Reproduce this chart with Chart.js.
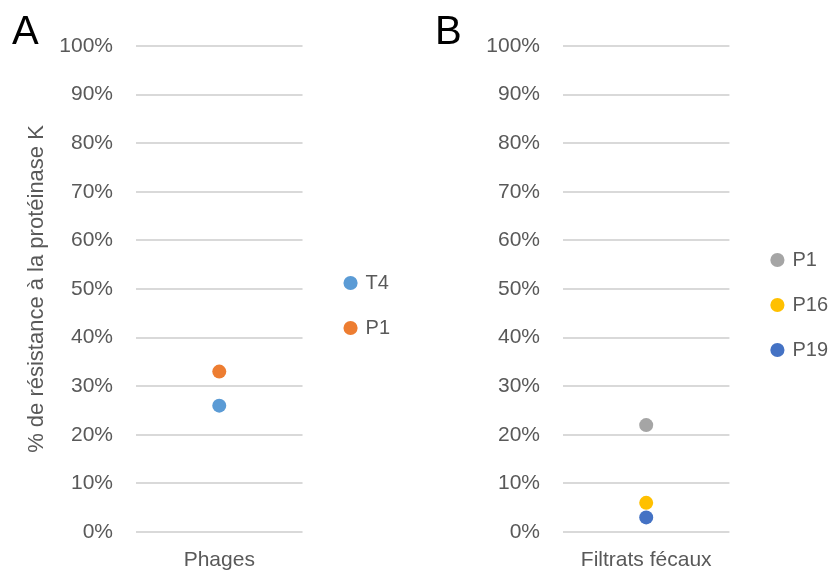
<!DOCTYPE html>
<html><head><meta charset="utf-8">
<script src="https://cdn.jsdelivr.net/npm/chart.js@4/dist/chart.umd.min.js"></script>
<style>
html,body{margin:0;padding:0;background:#fff;}
#wrap{position:relative;width:830px;height:573px;overflow:hidden;}
canvas{position:absolute;top:0;}
</style>
</head><body>
<div id="wrap">
<canvas id="cA" width="420" height="573" style="left:0px"></canvas>
<canvas id="cB" width="410" height="573" style="left:420px"></canvas>
</div>
<script>
// ---- data ----
const panelACategories = ['Phages'];
const panelASeries = ['T4', 'P1'];
const panelAValues = [26, 33];

const panelBCategories = ['Filtrats fécaux'];
const panelBSeries = ['P1', 'P16', 'P19'];
const panelBValues = [22, 6, 3];

const yTickLabels = ['0%','10%','20%','30%','40%','50%','60%','70%','80%','90%','100%'];
const yAxisTitle = '% de résistance à la protéinase K';

// ---- styles ----
const panelAColors = ['#5B9BD5', '#ED7D31'];
const panelBColors = ['#A5A5A5', '#FFC000', '#4472C4'];
const FONT = "'Liberation Sans', Arial, sans-serif";
const GREY = '#595959';

Chart.defaults.font.family = FONT;
Chart.defaults.color = GREY;

const legendNudge = {
  id: 'legendNudge',
  afterLayout(chart, args, opts) {
    const lg = chart.legend;
    if (!lg) return;
    const dx = opts.dx || 0, dy = opts.dy || 0;
    lg.left += dx; lg.right += dx; lg.top += dy; lg.bottom += dy;
  }
};

function makePanel(id, letter, categories, series, values, colors, cfg) {
  const datasets = series.map((name, i) => ({
    label: name,
    data: [values[i]],
    backgroundColor: colors[i],
    borderColor: colors[i],
    pointRadius: 7,
    pointHoverRadius: 7,
    pointBorderWidth: 0,
    showLine: false
  }));
  return new Chart(document.getElementById(id), {
    type: 'line',
    data: { labels: categories, datasets },
    plugins: [legendNudge],
    options: {
      responsive: false,
      animation: false,
      devicePixelRatio: 1,
      layout: { padding: { left: cfg.padLeft, top: 0, right: cfg.padRight, bottom: 0 } },
      plugins: {
        title: {
          display: true, text: letter, align: 'start', color: '#000',
          font: { size: 40, weight: 'normal', lineHeight: 0.65, family: FONT },
          padding: { top: 20, bottom: 0 }
        },
        legend: {
          position: 'right',
          labels: {
            usePointStyle: true, pointStyle: 'circle',
            boxWidth: 10, boxHeight: 10, padding: 25,
            color: GREY, font: { size: 20, family: FONT }
          }
        },
        legendNudge: { dx: cfg.dx, dy: cfg.dy },
        tooltip: { enabled: false }
      },
      scales: {
        x: {
          type: 'category',
          offset: true,
          grid: { display: false, drawTicks: false },
          border: { display: false },
          ticks: { padding: 16, color: GREY, font: { size: 21, family: FONT } },
          afterFit(s) { s.height = 41; }
        },
        y: {
          min: 0, max: 100,
          grid: { color: '#D9D9D9', lineWidth: 2, drawTicks: false },
          border: { display: false },
          ticks: {
            stepSize: 10, padding: 23, color: GREY,
            font: { size: 21, family: FONT },
            callback: (v) => yTickLabels[Math.round(v / 10)]
          },
          title: {
            display: cfg.showTitle, text: yAxisTitle, color: GREY,
            font: { size: 22, family: FONT }, padding: { top: 12, bottom: 0 }
          },
          afterFit(s) { s.width = cfg.yWidth; }
        }
      }
    }
  });
}

makePanel('cA', 'A', panelACategories, panelASeries, panelAValues, panelAColors,
  { padLeft: 12, padRight: 38, yWidth: 124, showTitle: true, dx: 18, dy: 19 });
makePanel('cB', 'B', panelBCategories, panelBSeries, panelBValues, panelBColors,
  { padLeft: 15, padRight: 10, yWidth: 128, showTitle: false, dx: 18, dy: 18.5 });
</script>
</body></html>
